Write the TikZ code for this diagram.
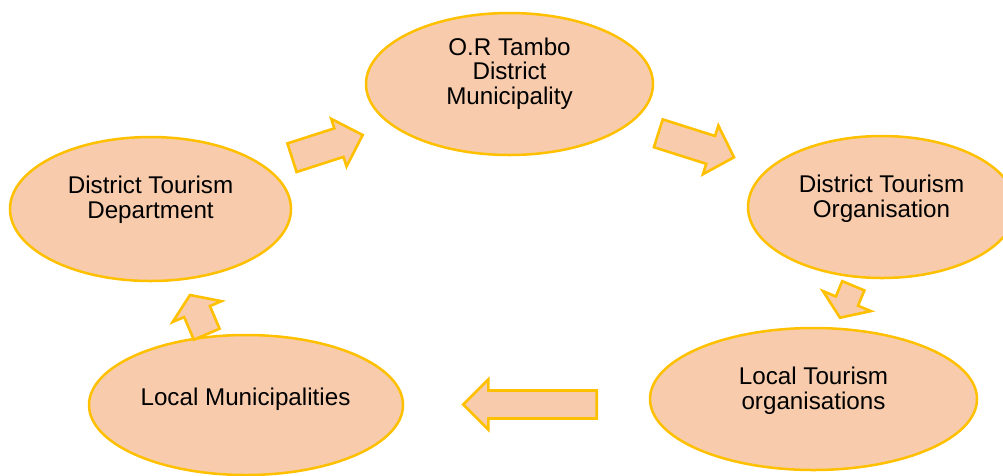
\documentclass[tikz,border=0pt]{standalone}
\usepackage{fontspec}
\setmainfont{Liberation Sans}
\usetikzlibrary{shapes.geometric,calc}
\definecolor{peach}{HTML}{F7CBAC}
\definecolor{gold}{HTML}{FFC000}
% name, tail, tip, half body width, half head width, head length
\newcommand{\blockarrow}[6]{%
  \coordinate (#1-h) at ($(#3)!#6!(#2)$);
  \draw[barrow] ($(#2)!#4!90:(#3)$) -- ($(#1-h)!#4!90:(#3)$) -- ($(#1-h)!#5!90:(#3)$)
    -- (#3) -- ($(#1-h)!#5!-90:(#3)$) -- ($(#1-h)!#4!-90:(#3)$) -- ($(#2)!#4!-90:(#3)$) -- cycle;}
\tikzset{
  ell/.style={ellipse, draw=gold, fill=peach, line width=2.5pt, inner sep=0pt},
  txt/.style={align=center, font=\fontsize{24.2}{24.5}\selectfont, inner sep=0pt, anchor=base},
  barrow/.style={draw=gold, fill=peach, line width=2.6pt, line join=miter}
}
\begin{document}
\begin{tikzpicture}[x=1pt,y=-1pt]
\useasboundingbox (0,0) rectangle (1003,475);
\fill[white] (0,0) rectangle (1003,475);
% ellipses
\node[ell, minimum width=287pt, minimum height=142pt] (ort) at (509.5,84) {};
\node[ell, minimum width=281pt, minimum height=144pt] (dtd) at (150.5,209) {};
\node[ell, minimum width=268pt, minimum height=142pt] (dto) at (882,207) {};
\node[ell, minimum width=327pt, minimum height=142pt] (lto) at (813.5,399) {};
\node[ell, minimum width=314pt, minimum height=140pt] (lm) at (246,405) {};
% texts (base anchor = baseline of last line)
\node[txt] (ort-t) at (509.5,104) {O.R Tambo\\District\\Municipality};
\node[txt] (dtd-t) at (150.5,218) {District Tourism\\Department};
\node[txt] (dto-t) at (881.5,217) {District Tourism\\Organisation};
\node[txt] (lto-t) at (813.5,409) {Local Tourism\\organisations};
\node[txt] (lm-t) at (245.5,405) {Local Municipalities};
% block arrows
\coordinate (a1s) at (292,157.7);   \coordinate (a1e) at (362.7,135);
\coordinate (a2s) at (658.3,133.3); \coordinate (a2e) at (734,157.3);
\coordinate (a3s) at (853.3,285.8); \coordinate (a3e) at (840,317.7);
\coordinate (a4s) at (596.7,404.5); \coordinate (a4e) at (463.3,404.5);
\coordinate (a5s) at (206.7,334.2); \coordinate (a5e) at (190,295);
\blockarrow{a1}{a1s}{a1e}{15pt}{25pt}{25pt}
\blockarrow{a2}{a2s}{a2e}{14.6pt}{25.5pt}{24.5pt}
\blockarrow{a3}{a3s}{a3e}{12pt}{26pt}{18pt}
\blockarrow{a4}{a4s}{a4e}{14pt}{25pt}{25pt}
\blockarrow{a5}{a5s}{a5e}{14pt}{26.5pt}{18pt}
\end{tikzpicture}
\end{document}
